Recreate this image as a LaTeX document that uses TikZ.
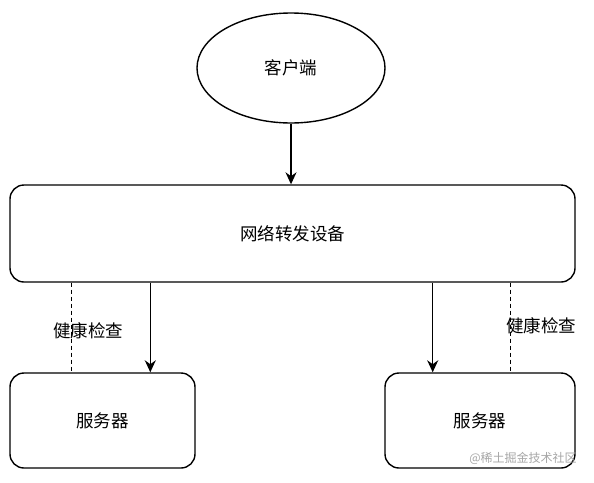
\documentclass[tikz,border=0pt]{standalone}
\usepackage{fontspec}
\newfontfamily\cjk{Noto Sans CJK SC}
\usetikzlibrary{arrows.meta,positioning,shapes.geometric,calc}

\begin{document}
\begin{tikzpicture}[x=1pt, y=-1pt, >={Stealth[length=12pt,width=11pt]},
  font=\cjk\fontsize{17.5}{20}\selectfont,
  blk/.style={draw, rounded corners=14pt, line width=1.4pt, align=center, inner sep=0pt},
  lnk/.style={->, line width=1.3pt},
  chk/.style={line width=1.3pt, dash pattern=on 4pt off 3pt}]
\useasboundingbox (0,0) rectangle (594,482);
\node[draw, ellipse, line width=1.4pt, minimum width=188pt, minimum height=110pt, inner sep=0pt] (cli) at (291,68) {客户端};
\node[blk, minimum width=565pt, minimum height=97pt] (dev) at (292.5,233.5) {网络转发设备};
\node[blk, minimum width=185pt, minimum height=95pt] (srvL) at (102.5,420.5) {服务器};
\node[blk, minimum width=190pt, minimum height=95pt] (srvR) at (480,420.5) {服务器};
\draw[lnk] (cli.south) -- (cli.south |- dev.north);
\draw[lnk] ([xshift=141pt]dev.south west) coordinate (aL) -- (aL |- srvL.north);
\draw[lnk] ([xshift=-143pt]dev.south east) coordinate (aR) -- (aR |- srvR.north);
\draw[chk] ([xshift=62pt]dev.south west) coordinate (hL) -- (hL |- srvL.north);
\draw[chk] ([xshift=-65pt]dev.south east) coordinate (hR) -- (hR |- srvR.north);
\node (lblL) at (88,331) {健康检查};
\node (lblR) at (541,326) {健康检查};
\node[text=gray!70, font=\cjk\fontsize{12}{14}\selectfont] (wm) at (523,458) {@稀土掘金技术社区};
\end{tikzpicture}
\end{document}
